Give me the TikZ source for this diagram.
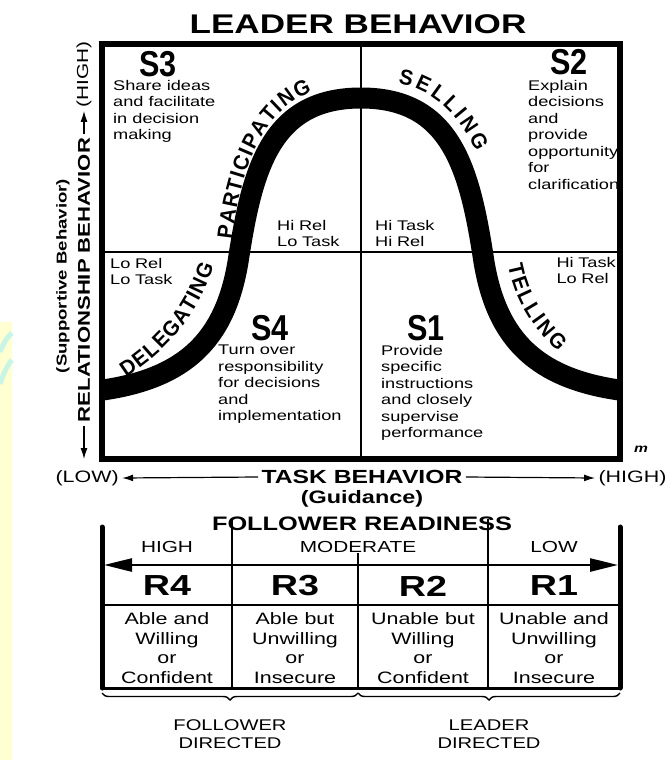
\documentclass[tikz,border=0pt]{standalone}
\usepackage{fontspec}
\setmainfont[FakeStretch=1.3]{Liberation Sans}
\newfontfamily\condfont[FakeStretch=0.85]{Liberation Sans}
\newfontfamily\curvefam[FakeStretch=0.95]{Liberation Sans}
\usetikzlibrary{arrows.meta,decorations.text,decorations.pathreplacing}
\definecolor{paleyellow}{HTML}{FFFFD2}
\definecolor{palecyan}{HTML}{C8F5E6}
\newcommand{\curvefont}{\curvefam\bfseries\fontsize{21.5}{21.5}\selectfont}
\tikzset{
  axisline/.style={line width=1.2pt,-{Latex[length=11pt,width=7pt]}},
  quad/.style={align=left,inner sep=0pt,font=\fontsize{14}{16.5}\selectfont},
  slab/.style={inner sep=0pt,font=\condfont\bfseries\fontsize{36}{36}\selectfont},
  rlab/.style={inner sep=0pt,font=\bfseries\fontsize{29}{29}\selectfont},
  cell/.style={align=center,inner sep=0pt,font=\fontsize{16.5}{19.5}\selectfont},
  head/.style={inner sep=0pt,font=\fontsize{16}{16}\selectfont},
  grid/.style={line width=1.3pt},
  bar/.style={line width=5pt,line cap=round},
  brace/.style={line width=1.4pt,decorate,decoration={brace,amplitude=7pt,mirror}},
  curvelabel/.style={decorate,decoration={text along path,text align=fit to path,text={|\curvefont|#1}}},
}
\begin{document}
\begin{tikzpicture}[x=1pt,y=-1pt]
\useasboundingbox (0,0) rectangle (670,760);
% slide background at the left
\fill[paleyellow] (0,322) rectangle (12,760);
\draw[palecyan,line width=5pt] (0,352) .. controls (4,342) and (8,336) .. (12,333);
\draw[palecyan,line width=5pt] (0,384) .. controls (4,372) and (8,364) .. (12,360);

\node[font=\bfseries\fontsize{27}{27}\selectfont] (title) at (358,24) {LEADER BEHAVIOR};

% quadrants
\coordinate (tl) at (102,44);
\coordinate (br) at (620,459);
\draw[grid] (361,44) -- (361,459);
\draw[grid] (102,252) -- (620,252);

% the curve
\coordinate (c0) at (103,390);
\coordinate (c1) at (238,262);
\coordinate (c2) at (361,98);
\coordinate (c3) at (484,262);
\coordinate (c4) at (619,390);
\draw[line width=21pt] (c0) .. controls (185,378) and (225,340) .. (c1)
  .. controls (252,170) and (270,98) .. (c2)
  .. controls (452,98) and (470,170) .. (c3)
  .. controls (497,340) and (537,378) .. (c4);
\draw[line width=5.5pt] (tl) rectangle (br);

\path[curvelabel=DELEGATING] (126,377) .. controls (165,352) and (195,320) .. (214,266);
\path[curvelabel=PARTICIPATING] (232,240) .. controls (240,170) and (262,110) .. (312,92);
\path[curvelabel=SELLING] (398,84) .. controls (430,88) and (458,113) .. (476,152);
\path[curvelabel=TELLING] (508,265) .. controls (515,300) and (530,325) .. (558,352);

\node[slab] (s3) at (158,64) {S3};
\node[slab] (s2) at (569,62) {S2};
\node[slab] (s4) at (270,328) {S4};
\node[slab] (s1) at (426,328) {S1};
\node[quad,anchor=north west] (t3) at (113,80) {Share ideas\\and facilitate\\in decision\\making};
\node[quad,anchor=north west] (t2) at (528,80) {Explain\\decisions\\and\\provide\\opportunity\\for\\clarification};
\node[quad,anchor=north west] (t4) at (218,345) {Turn over\\responsibility\\for decisions\\and\\implementation};
\node[quad,anchor=north west] (t1) at (381,345) {Provide\\specific\\instructions\\and closely\\supervise\\performance};
\node[quad,anchor=north west] (hrlt) at (277,220) {Hi\,\,Rel\\Lo\,\,Task};
\node[quad,anchor=north west] (hthr) at (375,220) {Hi\,\,Task\\Hi\,\,Rel};
\node[quad,anchor=north west] (lrlt) at (110,258) {Lo\,\,Rel\\Lo\,\,Task};
\node[quad,anchor=north east] (htlr) at (616,257) {Hi\,\,Task\\Lo\,\,Rel};
\node[font=\bfseries\itshape\fontsize{12}{12}\selectfont] (mark) at (641,449) {m};

% relationship axis
\node[rotate=90,font=\bfseries\fontsize{17}{17}\selectfont] (rb) at (84,280) {RELATIONSHIP BEHAVIOR};
\node[rotate=90,anchor=east,font=\fontsize{16}{16}\selectfont] (rhi) at (84,38) {(HIGH)};
\coordinate (rlo) at (84,459);
\draw[axisline] (rb.east) -- (rhi.west);
\draw[axisline] (rb.west) -- (rlo);
\node[rotate=90,font=\bfseries\fontsize{14.3}{14.3}\selectfont] (sb) at (63,276) {(Supportive Behavior)};

% task axis
\node[font=\bfseries\fontsize{19}{19}\selectfont] (tb) at (362,477) {TASK BEHAVIOR};
\node[anchor=west,font=\fontsize{16.5}{16.5}\selectfont] (lo) at (52,478) {(LOW)};
\node[anchor=east,font=\fontsize{16.5}{16.5}\selectfont] (hi) at (670,478) {(HIGH)};
\draw[axisline] (tb.west) -- (lo.east);
\draw[axisline] (tb.east) -- (hi.west);
\node[font=\bfseries\fontsize{18}{18}\selectfont] (gd) at (362,499) {(Guidance)};

% follower readiness
\node[font=\bfseries\fontsize{19.5}{19.5}\selectfont] (fr) at (362,524) {FOLLOWER READINESS};
\draw[bar] (102,527) -- (102,688);
\draw[bar] (620,527) -- (620,688);
\draw[grid] (232,519) -- (232,688);
\draw[grid] (488,519) -- (488,688);
\draw[grid] (358,553) -- (358,688);
\draw[line width=1.5pt] (102,605) -- (620,605);
\draw[line width=3pt] (102,688) -- (620,688);
\node[head] (hh) at (167,547) {HIGH};
\node[head] (hm) at (358,547) {MODERATE};
\node[head] (hl) at (554,547) {LOW};
\coordinate (al) at (104,565);
\coordinate (ar) at (618,565);
\draw[line width=2.5pt,{Triangle[length=28pt,width=13pt]}-{Triangle[length=28pt,width=13pt]}] (al) -- (ar);
\node[rlab] (r4) at (167,586) {R4};
\node[rlab] (r3) at (295,586) {R3};
\node[rlab] (r2) at (423,586) {R2};
\node[rlab] (r1) at (554,586) {R1};
\node[cell] (d4) at (167,648) {Able and\\Willing\\or\\Confident};
\node[cell] (d3) at (295,648) {Able but\\Unwilling\\or\\Insecure};
\node[cell] (d2) at (423,648) {Unable but\\Willing\\or\\Confident};
\node[cell] (d1) at (554,648) {Unable and\\Unwilling\\or\\Insecure};
\coordinate (b0) at (102,693);
\coordinate (b1) at (358,693);
\coordinate (b2) at (620,693);
\draw[brace] (b0) -- (b1);
\draw[brace] (b1) -- (b2);
\node[cell,font=\fontsize{15.5}{18.5}\selectfont] (fd) at (230,734) {FOLLOWER\\DIRECTED};
\node[cell,font=\fontsize{15.5}{18.5}\selectfont] (ld) at (489,734) {LEADER\\DIRECTED};
\end{tikzpicture}
\end{document}
